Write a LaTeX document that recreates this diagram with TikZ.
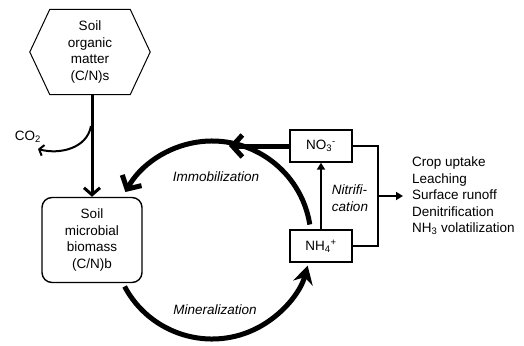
\documentclass[tikz,border=0pt]{standalone}
\usepackage{fontspec}
\setmainfont{Liberation Sans}
\usetikzlibrary{arrows.meta}
\tikzset{>=Latex}
\tikzset{
    txt/.style={font=\fontsize{13.5}{16.5}\selectfont, align=center},
    itxt/.style={txt, font=\fontsize{13.5}{16.5}\selectfont\itshape},
    pool/.style={txt, draw, line width=1.4pt, minimum width=62pt, minimum height=32pt, inner sep=0pt},
    cycarrow/.style={line width=5pt, -{Straight Barb[length=10pt,width=22pt]}},
    thinarrow/.style={line width=2pt, -{Triangle[length=7pt,width=8pt]}},
}

\begin{document}
\begin{tikzpicture}[x=1pt, y=-1pt]
    \useasboundingbox (0,0) rectangle (524,345);

    % pools
    \node (som) at (90,52) [txt, minimum width=80pt, minimum height=85pt, inner sep=0pt]
        {Soil\\organic\\matter\\(C/N)s};
    \draw[line width=1pt, line join=miter] (som.north west) -- (som.north east) -- ([xshift=20pt]som.east)
        -- (som.south east) -- (som.south west) -- ([xshift=-20pt]som.west) -- cycle;
    \node (smb) at (92,240) [txt, draw, line width=1.4pt, rounded corners=10pt,
        minimum width=100pt, minimum height=85pt] {Soil\\microbial\\biomass\\(C/N)b};
    \node (no3) at (321,146) [pool] {NO\textsubscript{3}\textsuperscript{-}};
    \node (nh4) at (321,246) [pool] {NH\textsubscript{4}\textsuperscript{+}};

    \coordinate (cyc) at (212,240);
    \coordinate (co2from) at (91,126);
    \coordinate (co2to) at (38,149);
    \coordinate (brk) at (378,196);
    \coordinate (arctop) at (229,146);

    \node (co2) at (28,137) [txt] {CO\textsubscript{2}};
    \node (fates) at (403,196) [txt, align=left, anchor=west, inner xsep=9pt, inner ysep=0pt]
        {Crop uptake\\Leaching\\Surface runoff\\Denitrification\\NH\textsubscript{3} volatilization};

    % decomposition
    \draw[line width=3pt, -{Straight Barb[length=7pt,width=16pt]}] (som.south -| smb.north) -- (smb.north);
    \draw[line width=2pt, -{Straight Barb[length=4pt,width=11pt]}] (co2from) to[out=-100, in=-15] (co2to);

    % N cycle
    \draw[cycarrow] (cyc) ++(-9:99) arc[start angle=-9, end angle=-151, radius=99];
    \draw[line width=5pt, -{Stealth[length=18pt,width=20pt,inset=6pt]}] (cyc) ++(152:99) arc[start angle=152, end angle=15, radius=99];
    \draw[cycarrow] (no3.west) -- (arctop);
    \node (immob) at (216,177) [itxt] {Immobilization};
    \node (miner) at (215,310) [itxt] {Mineralization};

    \draw[thinarrow] (nh4.north) -- (no3.south);
    \node (nitri) at (350,198) [itxt, align=left] {Nitrifi-\\cation};

    % losses
    \draw[line width=1.5pt] (no3.east) -| (brk) |- (nh4.east);
    \draw[thinarrow] (brk) -- (fates.west);
\end{tikzpicture}
\end{document}
